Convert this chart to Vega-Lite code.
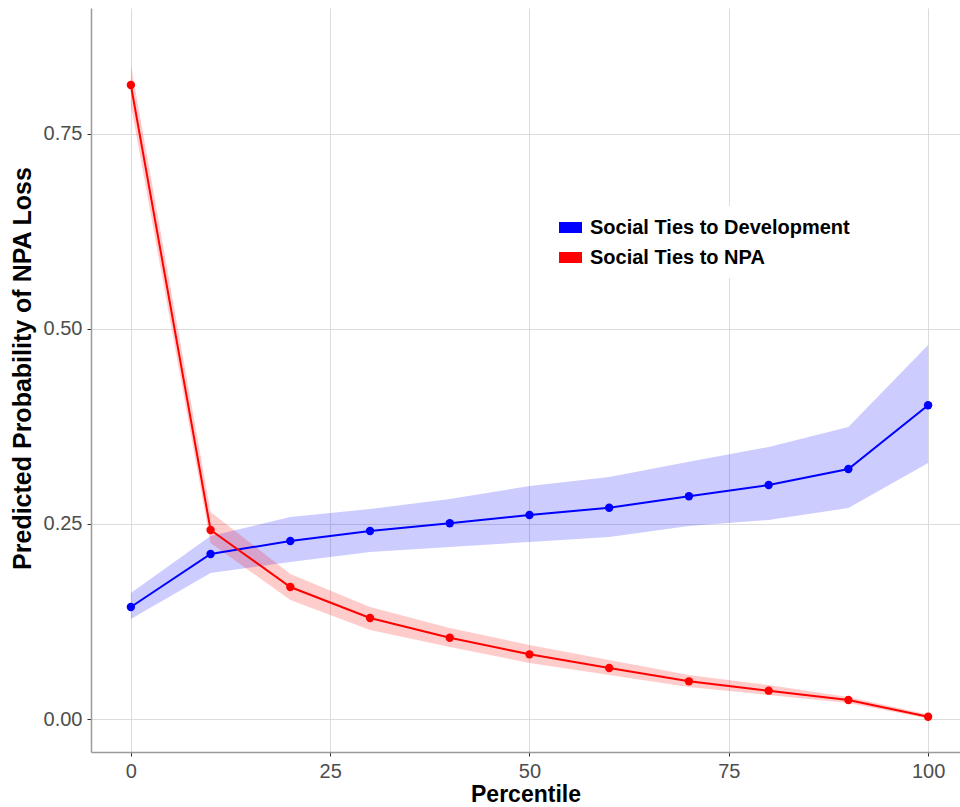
{
  "$schema": "https://vega.github.io/schema/vega-lite/v6.json",
  "width": 869,
  "height": 744,
  "autosize": {"type": "none"},
  "padding": {"left": 91, "top": 8, "right": 0, "bottom": 55},
  "background": "white",
  "config": {
    "view": {"stroke": null},
    "font": "Liberation Sans",
    "axis": {
      "gridColor": "#DCDCDC",
      "gridWidth": 1,
      "domainColor": "#9A9A9A",
      "domainWidth": 1.5,
      "tickColor": "#333333",
      "tickSize": 4,
      "tickWidth": 1,
      "labelFont": "Liberation Sans",
      "labelFontSize": 20,
      "labelColor": "#4D4D4D",
      "labelPadding": 5,
      "titleFont": "Liberation Sans",
      "titleFontWeight": "bold",
      "titleColor": "black"
    }
  },
  "data": {
    "values": [
      {"group": "Social Ties to Development", "pct": 0, "est": 0.1436, "lo": 0.1282, "hi": 0.1615},
      {"group": "Social Ties to Development", "pct": 10, "est": 0.2115, "lo": 0.1872, "hi": 0.2346},
      {"group": "Social Ties to Development", "pct": 20, "est": 0.2282, "lo": 0.2013, "hi": 0.259},
      {"group": "Social Ties to Development", "pct": 30, "est": 0.241, "lo": 0.2141, "hi": 0.2692},
      {"group": "Social Ties to Development", "pct": 40, "est": 0.2509, "lo": 0.2205, "hi": 0.2821},
      {"group": "Social Ties to Development", "pct": 50, "est": 0.2615, "lo": 0.2269, "hi": 0.2987},
      {"group": "Social Ties to Development", "pct": 60, "est": 0.2709, "lo": 0.2333, "hi": 0.3103},
      {"group": "Social Ties to Development", "pct": 70, "est": 0.2855, "lo": 0.2474, "hi": 0.3299},
      {"group": "Social Ties to Development", "pct": 80, "est": 0.3, "lo": 0.2551, "hi": 0.3487},
      {"group": "Social Ties to Development", "pct": 90, "est": 0.3205, "lo": 0.2705, "hi": 0.3744},
      {"group": "Social Ties to Development", "pct": 100, "est": 0.4022, "lo": 0.3282, "hi": 0.4795},
      {"group": "Social Ties to NPA", "pct": 0, "est": 0.8128, "lo": 0.7872, "hi": 0.8385},
      {"group": "Social Ties to NPA", "pct": 10, "est": 0.2423, "lo": 0.2256, "hi": 0.2654},
      {"group": "Social Ties to NPA", "pct": 20, "est": 0.1692, "lo": 0.1526, "hi": 0.1859},
      {"group": "Social Ties to NPA", "pct": 30, "est": 0.1295, "lo": 0.1141, "hi": 0.1436},
      {"group": "Social Ties to NPA", "pct": 40, "est": 0.1042, "lo": 0.0923, "hi": 0.1167},
      {"group": "Social Ties to NPA", "pct": 50, "est": 0.0829, "lo": 0.0718, "hi": 0.0949},
      {"group": "Social Ties to NPA", "pct": 60, "est": 0.0654, "lo": 0.0564, "hi": 0.0756},
      {"group": "Social Ties to NPA", "pct": 70, "est": 0.0483, "lo": 0.041, "hi": 0.0564},
      {"group": "Social Ties to NPA", "pct": 80, "est": 0.0363, "lo": 0.0308, "hi": 0.0436},
      {"group": "Social Ties to NPA", "pct": 90, "est": 0.0244, "lo": 0.0205, "hi": 0.0282},
      {"group": "Social Ties to NPA", "pct": 100, "est": 0.0029, "lo": 0.0006, "hi": 0.0058}
    ]
  },
  "encoding": {
    "x": {
      "field": "pct",
      "type": "quantitative",
      "scale": {"domain": [-5, 104], "nice": false, "zero": false},
      "axis": {"values": [0, 25, 50, 75, 100], "title": "Percentile", "titleFontSize": 23, "titlePadding": 2}
    }
  },
  "layer": [
    {
      "mark": {"type": "area", "opacity": 0.2},
      "encoding": {
        "y": {
          "field": "lo",
          "type": "quantitative",
          "scale": {"domain": [-0.0423, 0.9115], "nice": false, "zero": false},
          "axis": {"values": [0, 0.25, 0.5, 0.75], "format": ".2f", "title": "Predicted Probability of NPA Loss", "titleFontSize": 25, "titlePadding": 8, "titleY": 360}
        },
        "y2": {"field": "hi"},
        "color": {
          "field": "group",
          "type": "nominal",
          "scale": {"domain": ["Social Ties to Development", "Social Ties to NPA"], "range": ["#0000FF", "#FF0000"]},
          "legend": {
            "orient": "none",
            "legendX": 458,
            "legendY": 198,
            "title": null,
            "fillColor": "white",
            "padding": 10,
            "rowPadding": 8,
            "labelFont": "Liberation Sans",
            "labelFontSize": 20,
            "labelFontWeight": "bold",
            "labelColor": "black",
            "labelOffset": 8,
            "labelLimit": 500,
            "symbolType": "M-1,-0.48H1V0.48H-1Z",
            "symbolSize": 529,
            "symbolStrokeWidth": 0,
            "symbolOpacity": 1
          }
        }
      }
    },
    {
      "mark": {"type": "line", "strokeWidth": 2},
      "encoding": {
        "y": {"field": "est", "type": "quantitative"},
        "color": {"field": "group", "type": "nominal"}
      }
    },
    {
      "mark": {"type": "point", "filled": true, "opacity": 1, "size": 70},
      "encoding": {
        "y": {"field": "est", "type": "quantitative"},
        "color": {"field": "group", "type": "nominal"}
      }
    }
  ]
}
